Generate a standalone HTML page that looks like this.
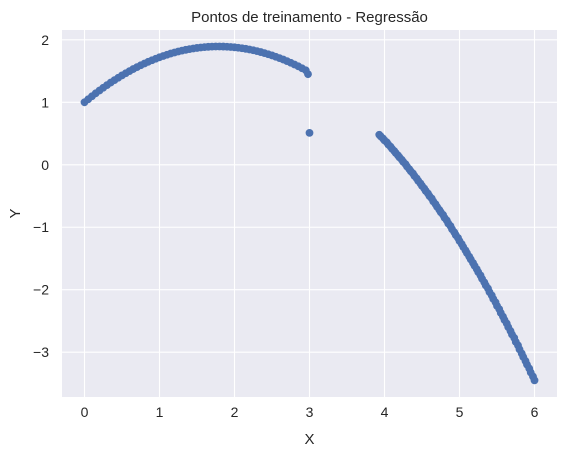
<!DOCTYPE html>
<html><head><meta charset="utf-8"><style>
html,body{margin:0;padding:0;background:#fff;}
svg{display:block;font-family:"Liberation Sans","DejaVu Sans",sans-serif;}
</style></head><body>
<svg id="chart" width="567" height="457"></svg>
<script>
const xs1=[0,0.05,0.1,0.15,0.2,0.25,0.3,0.35,0.4,0.45,0.5,0.55,0.6,0.65,0.7,0.75,0.8,0.85,0.9,0.95,1.0,1.05,1.1,1.15,1.2,1.25,1.3,1.35,1.4,1.45,1.5,1.55,1.6,1.65,1.7,1.75,1.8,1.85,1.9,1.95,2.0,2.05,2.1,2.15,2.2,2.25,2.3,2.35,2.4,2.45,2.5,2.55,2.6,2.65,2.7,2.75,2.8,2.85,2.9,2.95,2.98];
const ys1=[1.000,1.049,1.097,1.144,1.189,1.233,1.275,1.316,1.355,1.393,1.430,1.465,1.499,1.532,1.563,1.593,1.621,1.648,1.673,1.697,1.720,1.741,1.761,1.780,1.797,1.813,1.827,1.840,1.851,1.861,1.870,1.877,1.883,1.888,1.891,1.893,1.893,1.892,1.889,1.885,1.880,1.873,1.865,1.856,1.845,1.833,1.819,1.804,1.787,1.769,1.750,1.729,1.707,1.684,1.659,1.633,1.605,1.576,1.545,1.513,1.45];
const xsOut=[3.0];
const ysOut=[0.51];
const xs2=[3.93,3.95,3.98,4.0,4.03,4.05,4.08,4.1,4.13,4.15,4.18,4.2,4.23,4.25,4.28,4.3,4.33,4.35,4.38,4.4,4.43,4.45,4.48,4.5,4.53,4.55,4.58,4.6,4.63,4.65,4.68,4.7,4.73,4.75,4.78,4.8,4.83,4.85,4.88,4.9,4.93,4.95,4.98,5.0,5.03,5.05,5.08,5.1,5.13,5.15,5.18,5.2,5.23,5.25,5.28,5.3,5.33,5.35,5.38,5.4,5.43,5.45,5.48,5.5,5.53,5.55,5.58,5.6,5.63,5.65,5.68,5.7,5.73,5.75,5.78,5.8,5.83,5.85,5.88,5.9,5.93,5.95,5.98,6.0];
const ys2=[0.48,0.454,0.42,0.39,0.36,0.324,0.29,0.257,0.22,0.188,0.15,0.118,0.08,0.046,0.01,-0.028,-0.07,-0.103,-0.14,-0.180,-0.22,-0.258,-0.30,-0.338,-0.38,-0.419,-0.46,-0.502,-0.54,-0.586,-0.63,-0.672,-0.72,-0.759,-0.80,-0.848,-0.89,-0.939,-0.98,-1.031,-1.08,-1.125,-1.17,-1.22,-1.27,-1.317,-1.37,-1.415,-1.47,-1.515,-1.57,-1.616,-1.67,-1.719,-1.77,-1.824,-1.88,-1.930,-1.98,-2.038,-2.09,-2.147,-2.20,-2.258,-2.31,-2.370,-2.43,-2.484,-2.54,-2.599,-2.66,-2.716,-2.77,-2.834,-2.89,-2.954,-3.02,-3.076,-3.14,-3.199,-3.26,-3.324,-3.39,-3.45];
const xTicks=[0,1,2,3,4,5,6];
const yTicks=[-3,-2,-1,0,1,2];

const NS="http://www.w3.org/2000/svg";
const svg=document.getElementById('chart');
const L=62,R=557,T=30,B=397;
const xMin=-0.3,xMax=6.3,yMin=-3.717,yMax=2.157;
const sx=v=>L+(v-xMin)/(xMax-xMin)*(R-L);
const sy=v=>B-(v-yMin)/(yMax-yMin)*(B-T);
function mk(tag,attrs){const e=document.createElementNS(NS,tag);for(const k in attrs)e.setAttribute(k,attrs[k]);svg.appendChild(e);return e;}

const bg=mk('rect',{x:L,y:T,width:R-L,height:B-T,fill:'#eaeaf2'});



xTicks.forEach(t=>{
  const g=mk('line',{x1:sx(t),x2:sx(t),y1:T,y2:B,stroke:'#fff','stroke-width':1.1});
  
  
  const tx=mk('text',{x:sx(t),y:B+20,'text-anchor':'middle','font-size':14,fill:'#262626'});
  tx.textContent=t;
  
  
});
yTicks.forEach(t=>{
  const g=mk('line',{x1:L,x2:R,y1:sy(t),y2:sy(t),stroke:'#fff','stroke-width':1.1});
  
  
  const tx=mk('text',{x:L-13,y:sy(t)+5,'text-anchor':'end','font-size':14,fill:'#262626'});
  tx.textContent=t<0?'\u2212'+(-t):t;
  
  
});

function pts(xs,ys){
  xs.forEach((x,i)=>{
    const c=mk('circle',{cx:sx(x),cy:sy(ys[i]),r:3.9,fill:'#4c72b0'});
    
    
  });
}
pts(xs1,ys1);pts(xsOut,ysOut);pts(xs2,ys2);

const title=mk('text',{x:(L+R)/2,y:22,'text-anchor':'middle','font-size':15,fill:'#262626'});
title.textContent='Pontos de treinamento - Regressão';


const xl=mk('text',{x:(L+R)/2,y:444,'text-anchor':'middle','font-size':15,fill:'#262626'});
xl.textContent='X';


const yl=mk('text',{x:20,y:(T+B)/2,'text-anchor':'middle','font-size':15,fill:'#262626',transform:`rotate(-90 20 ${(T+B)/2})`});
yl.textContent='Y';


</script>
</body></html>
